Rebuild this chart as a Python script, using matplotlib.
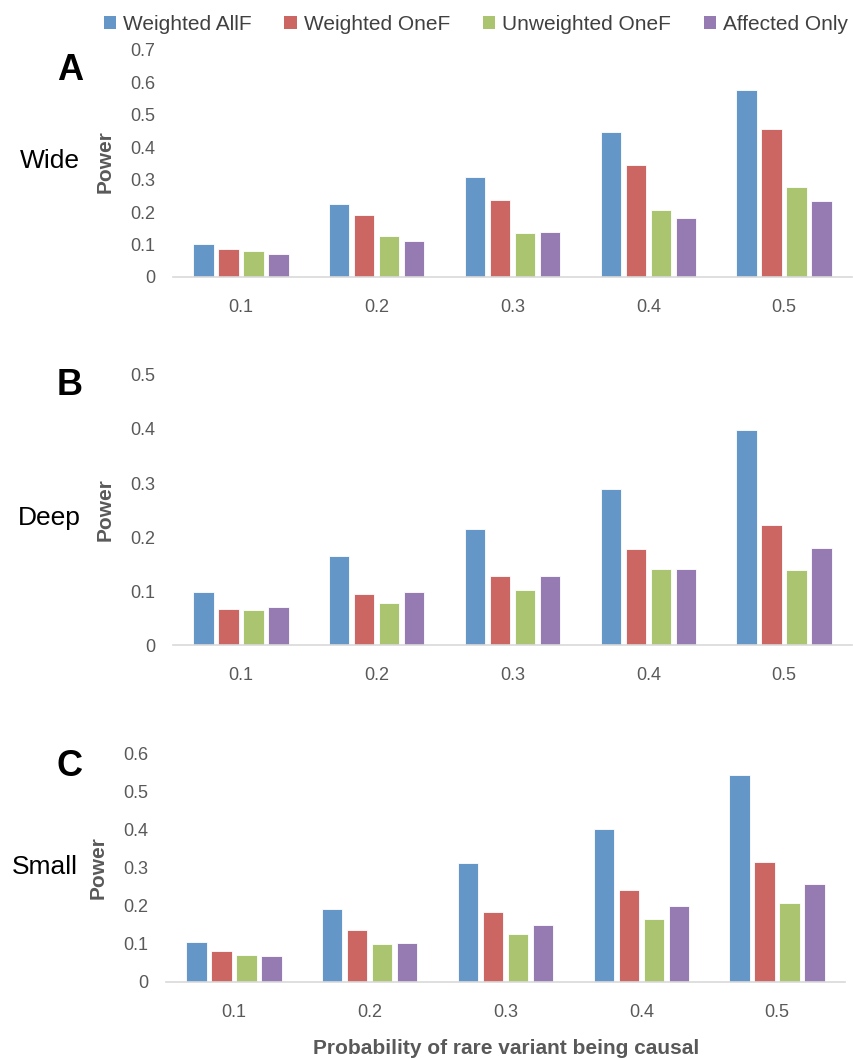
import matplotlib
matplotlib.use("Agg")
import matplotlib.pyplot as plt
from matplotlib.patches import Patch
import numpy as np

plt.rcParams['font.family'] = ['Liberation Sans', 'DejaVu Sans']

categories = ["0.1", "0.2", "0.3", "0.4", "0.5"]
series_names = ["Weighted AllF", "Weighted OneF", "Unweighted OneF", "Affected Only"]
colors = ["#6496C8", "#CB6662", "#ABC46F", "#957BB1"]

wide_allf = [0.102, 0.226, 0.309, 0.448, 0.577]
wide_onef = [0.087, 0.190, 0.237, 0.346, 0.456]
wide_unw = [0.080, 0.126, 0.136, 0.206, 0.276]
wide_aff = [0.070, 0.111, 0.140, 0.182, 0.234]

deep_allf = [0.099, 0.164, 0.215, 0.289, 0.398]
deep_onef = [0.067, 0.094, 0.128, 0.177, 0.222]
deep_unw = [0.064, 0.078, 0.101, 0.140, 0.138]
deep_aff = [0.071, 0.099, 0.128, 0.140, 0.180]

small_allf = [0.105, 0.190, 0.311, 0.400, 0.542]
small_onef = [0.081, 0.136, 0.183, 0.241, 0.315]
small_unw = [0.071, 0.099, 0.125, 0.166, 0.208]
small_aff = [0.068, 0.102, 0.149, 0.199, 0.256]

panels = [
    ("A", "Wide", [wide_allf, wide_onef, wide_unw, wide_aff], 0.7, [0, 0.1, 0.2, 0.3, 0.4, 0.5, 0.6, 0.7]),
    ("B", "Deep", [deep_allf, deep_onef, deep_unw, deep_aff], 0.5, [0, 0.1, 0.2, 0.3, 0.4, 0.5]),
    ("C", "Small", [small_allf, small_onef, small_unw, small_aff], 0.6, [0, 0.1, 0.2, 0.3, 0.4, 0.5, 0.6]),
]

W, H = 854, 1059
fig = plt.figure(figsize=(W / 100, H / 100), dpi=100)

# axes boxes in pixels: (left, right, top, bottom)
boxes = [(173, 852, 50, 277), (173, 852, 375, 645), (166, 845, 753, 982)]
letter_pos = [(70, 71), (70, 386), (70, 766)]
name_pos = [(50, 161), (49, 518), (45, 867)]
power_pos = [(105, 162), (105, 510), (98, 868)]

gray = "#595959"
x = np.arange(len(categories))
step = 0.184
bw = 0.15

for i, (letter, name, data, ymax, ticks) in enumerate(panels):
    l, r, t, b = boxes[i]
    ax = fig.add_axes([l / W, 1 - b / H, (r - l) / W, (b - t) / H])
    for j, vals in enumerate(data):
        ax.bar(x + (j - 1.5) * step, vals, width=bw, color=colors[j],
               edgecolor="white", linewidth=0.6, zorder=2)
    ax.set_xlim(-0.5, len(categories) - 0.5)
    ax.set_ylim(0, ymax)
    ax.set_yticks(ticks)
    ax.set_yticklabels(["0" if v == 0 else f"{v:.1f}" for v in ticks])
    ax.set_xticks(x)
    ax.set_xticklabels(categories)
    for s in ["top", "right", "left"]:
        ax.spines[s].set_visible(False)
    ax.spines["bottom"].set_color("#D9D9D9")
    ax.spines["bottom"].set_linewidth(1.2)
    ax.tick_params(axis="both", length=0, labelsize=13, labelcolor=gray)
    ax.tick_params(axis="y", pad=13)
    ax.tick_params(axis="x", pad=16)
    ax.set_facecolor("white")

    fig.text(letter_pos[i][0] / W, 1 - letter_pos[i][1] / H, letter, fontsize=26,
             fontweight="bold", ha="center", va="center", color="black")
    fig.text(name_pos[i][0] / W, 1 - name_pos[i][1] / H, name, fontsize=19,
             ha="center", va="center", color="black")
    fig.text(power_pos[i][0] / W, 1 - power_pos[i][1] / H, "Power", fontsize=15,
             fontweight="bold", rotation=90, ha="center", va="center", color=gray)

fig.text(506 / W, 1 - 1048 / H, "Probability of rare variant being causal",
         fontsize=15, fontweight="bold", ha="center", va="center", color=gray)

handles = [Patch(facecolor=c, edgecolor="none") for c in colors]
fig.legend(handles, series_names, loc="center", bbox_to_anchor=(476 / W, 1 - 24 / H),
           ncol=4, frameon=False, fontsize=15, handlelength=0.6, handleheight=0.6,
           handletextpad=0.35, columnspacing=1.55, labelcolor="#404040")

fig.savefig("out.png", dpi=100, facecolor="white")
